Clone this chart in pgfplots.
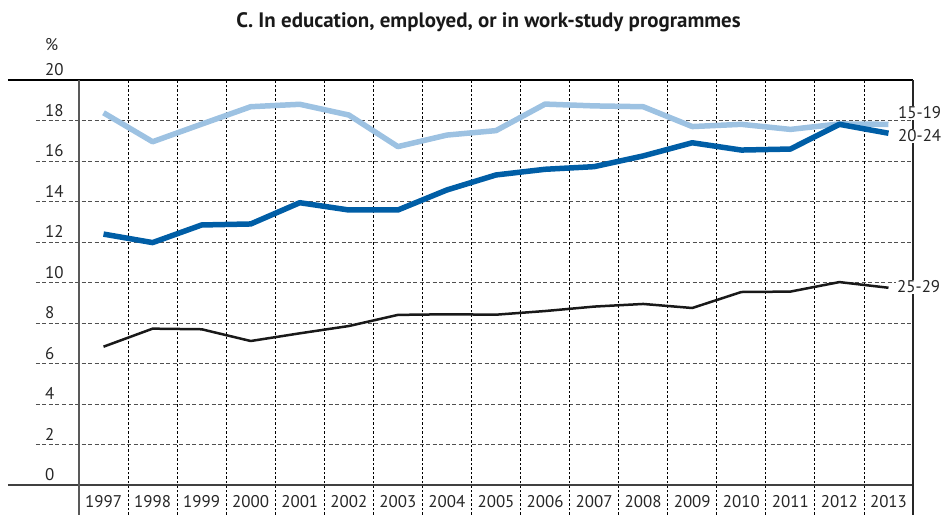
\documentclass[border=0pt]{standalone}
\usepackage{pgfplots}
\pgfplotsset{compat=1.18}
\usepackage{fontspec}
\setmainfont{PT Sans}

\definecolor{lightblue}{RGB}{157,194,226}
\definecolor{darkblue}{RGB}{0,94,166}
\definecolor{gridgray}{RGB}{80,80,80}

\newcommand{\lbl}{\fontsize{17}{20}\selectfont}

\begin{document}
\begin{tikzpicture}[x=1bp,y=1bp]
\path[use as bounding box] (-79,-30) rectangle (867,485);
% grid, drawn behind the data
\foreach \v in {2,4,...,18}
  \draw[gridgray, line width=0.9bp, dash pattern=on 4bp off 2.5bp] (-43,\v*20.25) -- (834,\v*20.25);
\foreach \i in {1,...,16}
  \draw[black, line width=0.8bp, dash pattern=on 2.5bp off 2bp] (\i*834/17,-30) -- (\i*834/17,405);
% frame
\draw[black, line width=1.3bp] (-71,405) -- (834,405);
\draw[black!75, line width=1.3bp] (-71,0) -- (834,0);
\draw[black!65, line width=1.2bp] (0,-30) -- (0,405);
\draw[black!85, line width=1.2bp] (834,-30) -- (834,405);

\begin{axis}[
    at={(0,0)}, anchor=south west,
    scale only axis,
    width=834bp, height=405bp,
    xmin=1996.5, xmax=2013.5,
    ymin=0, ymax=20,
    axis line style={draw=none},
    tick style={draw=none},
    clip=false,
    xtick={1997,1998,1999,2000,2001,2002,2003,2004,2005,2006,2007,2008,2009,2010,2011,2012,2013},
    xticklabels={1997,1998,1999,2000,2001,2002,2003,2004,2005,2006,2007,2008,2009,2010,2011,2012,2013},
    ytick={0,2,4,6,8,10,12,14,16,18,20},
    yticklabels={0,2,4,6,8,10,12,14,16,18,20},
    ticklabel style={font=\lbl, text=black!85},
    xticklabel style={anchor=base, inner sep=0pt, yshift=-23bp},
    yticklabel style={anchor=base west, inner sep=0pt, xshift=-34bp, yshift=4bp},
    line join=round,
]
\addplot[lightblue, line width=5.5bp] coordinates {
(1997,18.38) (1998,16.95) (1999,17.82) (2000,18.68) (2001,18.80) (2002,18.27)
(2003,16.71) (2004,17.28) (2005,17.50) (2006,18.81) (2007,18.72) (2008,18.68)
(2009,17.70) (2010,17.81) (2011,17.56) (2012,17.83) (2013,17.81)};
\addplot[darkblue, line width=5.5bp] coordinates {
(1997,12.39) (1998,11.97) (1999,12.84) (2000,12.89) (2001,13.94) (2002,13.58)
(2003,13.58) (2004,14.57) (2005,15.31) (2006,15.59) (2007,15.72) (2008,16.25)
(2009,16.90) (2010,16.54) (2011,16.59) (2012,17.81) (2013,17.37)};
\addplot[black!90, line width=2.5bp] coordinates {
(1997,6.83) (1998,7.72) (1999,7.69) (2000,7.11) (2001,7.49) (2002,7.85)
(2003,8.40) (2004,8.43) (2005,8.41) (2006,8.59) (2007,8.81) (2008,8.94)
(2009,8.74) (2010,9.53) (2011,9.55) (2012,10.02) (2013,9.74)};
\end{axis}

% unit and series labels
\node[anchor=base west, inner sep=0pt, font=\lbl, text=black!85] at (-34,434) {\%};
\node[anchor=west, fill=white, inner sep=1bp, font=\lbl, text=black!85] at (818,372) {15-19};
\node[anchor=west, fill=white, inner sep=1bp, font=\lbl, text=black!85] at (818,349) {20-24};
\node[anchor=west, fill=white, inner sep=1bp, font=\lbl, text=black!85] at (817,198) {25-29};
% title
\node[anchor=base, inner sep=0pt, text=black!90, font=\bfseries\fontsize{21}{24}\selectfont] at (409.5,457)
  {C. In education, employed, or in work-study programmes};
\end{tikzpicture}
\end{document}
